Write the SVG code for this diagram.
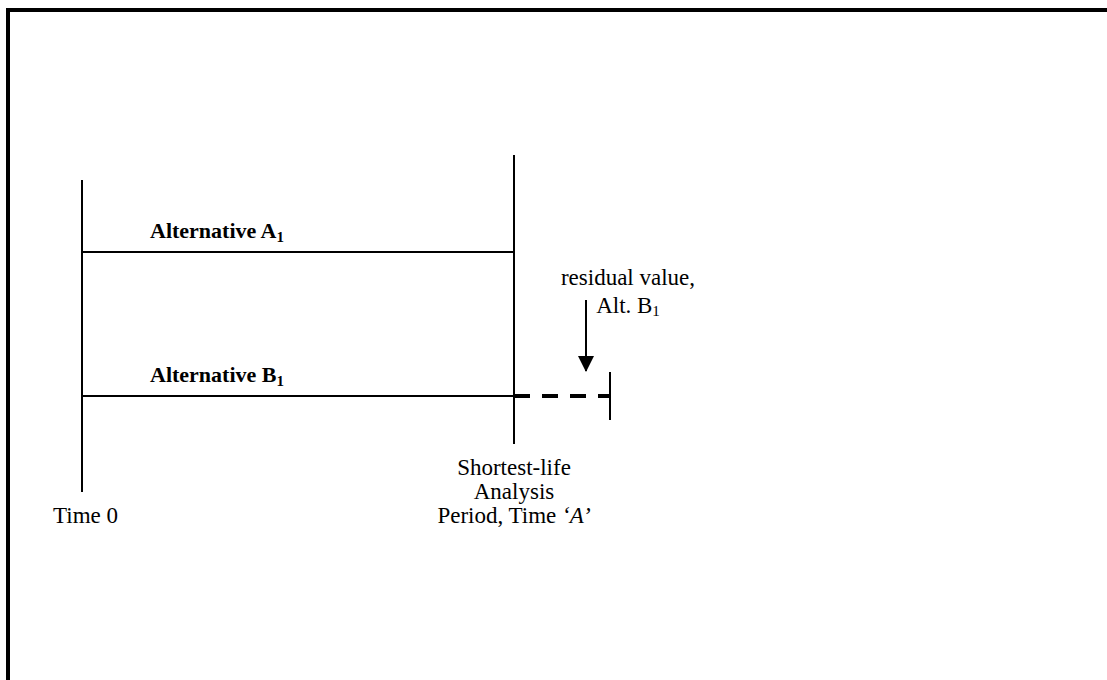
<svg xmlns="http://www.w3.org/2000/svg" width="1107" height="680" viewBox="0 0 1107 680">
  <style>
    .frame { fill: none; stroke: #000; stroke-width: 4; }
    .line { stroke: #000; stroke-width: 2; fill: none; }
    .dash { stroke: #000; stroke-width: 4; stroke-dasharray: 16 12; fill: none; }
    .lbl { font-family: "Liberation Serif", "Times New Roman", serif; font-size: 23px; fill: #000; }
    .bold { font-weight: bold; font-size: 22px; }
    .mid { text-anchor: middle; }
  </style>
  <defs>
    <marker id="head" markerWidth="16" markerHeight="16" refX="15" refY="8" orient="auto" markerUnits="userSpaceOnUse">
      <path d="M0,0 L16,8 L0,16 Z" fill="#000"/>
    </marker>
  </defs>

  <!-- outer frame, running off the right and bottom edges -->
  <rect class="frame" x="8" y="10" width="1200" height="800"/>

  <!-- time axes -->
  <g id="time0-axis">
    <line class="line" x1="82" y1="180" x2="82" y2="492"/>
    <text class="lbl" x="53" y="523">Time 0</text>
  </g>
  <g id="period-axis">
    <line class="line" x1="514" y1="155" x2="514" y2="444"/>
    <text class="lbl mid" x="514" y="475">Shortest-life</text>
    <text class="lbl mid" x="514" y="499">Analysis</text>
    <text class="lbl mid" x="514" y="523">Period, Time <tspan font-style="italic">‘A’</tspan></text>
  </g>

  <!-- alternatives -->
  <g id="alt-a1">
    <line class="line" x1="82" y1="252" x2="514" y2="252"/>
    <text class="lbl bold" x="150" y="238">Alternative A<tspan font-size="15" dy="4">1</tspan></text>
  </g>
  <g id="alt-b1">
    <line class="line" x1="82" y1="396" x2="514" y2="396"/>
    <text class="lbl bold" x="150" y="382">Alternative B<tspan font-size="15" dy="4">1</tspan></text>
  </g>

  <!-- residual value of B1 beyond the analysis period -->
  <g id="residual">
    <line class="dash" x1="514" y1="396" x2="610" y2="396"/>
    <line class="line" x1="610" y1="372" x2="610" y2="420"/>
    <text class="lbl mid" x="628" y="285">residual value,</text>
    <text class="lbl mid" x="628" y="313">Alt. B<tspan font-size="15" dy="3">1</tspan></text>
  </g>

  <g id="connectors">
    <line class="line" x1="586" y1="300" x2="586" y2="371" marker-end="url(#head)"/>
  </g>
</svg>
